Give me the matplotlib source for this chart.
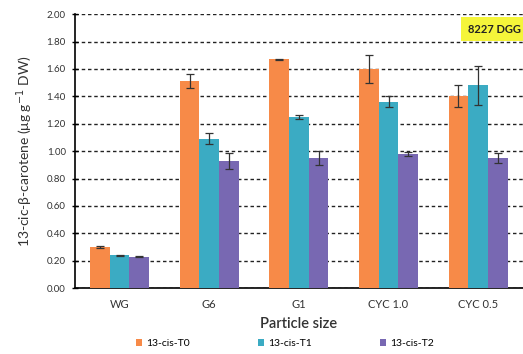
import numpy as np
import matplotlib.pyplot as plt

# --------------------------------------------------
# DATA
# --------------------------------------------------
categories = ["WG", "G6", "G1", "CYC 1.0", "CYC 0.5"]
series_names = ["13-cis-T0", "13-cis-T1", "13-cis-T2"]

t0_vals = [0.30, 1.51, 1.67, 1.60, 1.40]
t1_vals = [0.24, 1.09, 1.25, 1.36, 1.48]
t2_vals = [0.23, 0.93, 0.95, 0.98, 0.95]

t0_err = [0.01, 0.05, 0.005, 0.10, 0.08]
t1_err = [0.005, 0.04, 0.015, 0.04, 0.14]
t2_err = [0.005, 0.06, 0.05, 0.015, 0.035]

colors = ["#F78A48", "#3BABC3", "#7868B2"]

plt.rcParams["font.family"] = ["Lato", "DejaVu Sans"]

# --------------------------------------------------
# PLOT
# --------------------------------------------------
fig = plt.figure(figsize=(5.23, 3.54), dpi=100)
ax = fig.add_axes([0.143, 0.186, 0.857, 0.774])

x = np.arange(len(categories))
w = 0.22
values = [t0_vals, t1_vals, t2_vals]
errors = [t0_err, t1_err, t2_err]

for i in range(3):
    ax.bar(x + (i - 1) * w, values[i], w, color=colors[i], label=series_names[i],
           yerr=errors[i], capsize=3,
           error_kw=dict(ecolor="#333333", elinewidth=0.9, capthick=0.9), zorder=3)

ax.set_xlim(-0.5, 4.5)
ax.set_ylim(0, 2.0)
ax.set_yticks(np.arange(0, 2.01, 0.2))
ax.set_yticklabels([f"{v:.2f}" for v in np.arange(0, 2.01, 0.2)], fontsize=7, color="#333333")
ax.set_xticks(x)
ax.set_xticklabels(categories, fontsize=8, color="#333333")
ax.tick_params(axis="x", length=0, pad=8)
ax.tick_params(axis="y", direction="inout", length=5, width=1, pad=4)

ax.yaxis.grid(True, linestyle=(0, (2.5, 2)), color="#222222", linewidth=1)
ax.set_axisbelow(True)

for s in ["top", "right"]:
    ax.spines[s].set_visible(False)
ax.spines["left"].set_linewidth(1.2)
ax.spines["bottom"].set_linewidth(1.2)

ax.set_xlabel("Particle size", fontsize=10.5, fontweight="semibold", color="#333333", labelpad=5)
ax.set_ylabel("13-cic-β-carotene (μg g$^{-1}$ DW)", fontsize=10, color="#333333", labelpad=8)

ax.text(0.995, 0.965, "8227 DGG", transform=ax.transAxes, ha="right", va="top",
        fontsize=8, fontweight="bold", color="#222222",
        bbox=dict(boxstyle="square,pad=0.6", facecolor="#F5F53A", edgecolor="none"), zorder=5)

fig.legend(loc="lower center", bbox_to_anchor=(0.545, -0.01), ncol=3, frameon=False,
           fontsize=7.5, handlelength=0.6, handleheight=0.6, columnspacing=6.5, handletextpad=0.4)

plt.savefig("out.png", dpi=100)
plt.close()
